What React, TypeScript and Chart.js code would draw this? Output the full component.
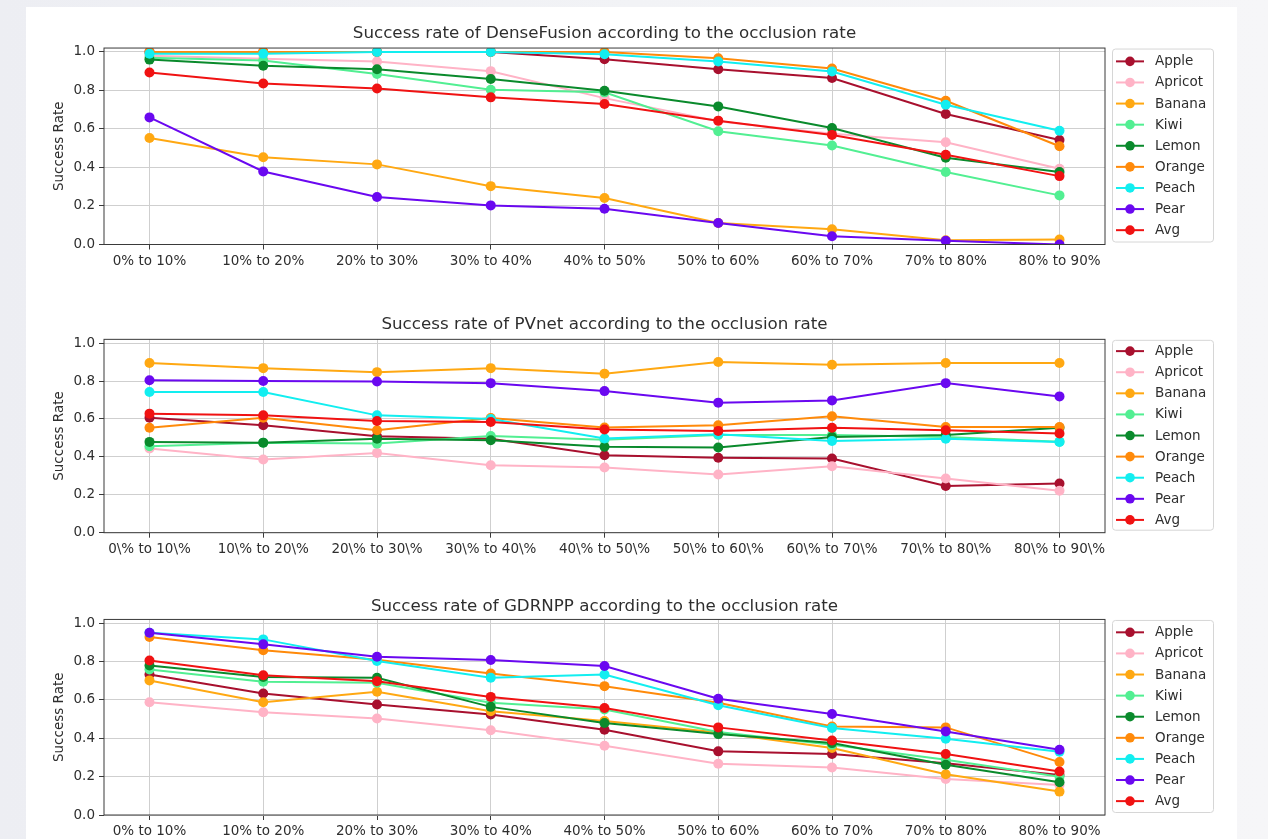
import React, { useEffect, useRef } from 'react';
import { Chart, registerables } from 'chart.js';

Chart.register(...registerables);
Chart.defaults.font.family = '"DejaVu Sans", sans-serif';
Chart.defaults.color = '#333333';

// ---------- data ----------
const SERIES = ['Apple', 'Apricot', 'Banana', 'Kiwi', 'Lemon', 'Orange', 'Peach', 'Pear', 'Avg'];

const LABELS_PLAIN = ['0% to 10%', '10% to 20%', '20% to 30%', '30% to 40%', '40% to 50%', '50% to 60%', '60% to 70%', '70% to 80%', '80% to 90%'];
const LABELS_ESCAPED = ['0\\% to 10\\%', '10\\% to 20\\%', '20\\% to 30\\%', '30\\% to 40\\%', '40\\% to 50\\%', '50\\% to 60\\%', '60\\% to 70\\%', '70\\% to 80\\%', '80\\% to 90\\%'];
const Y_TICKS = [0, 0.2, 0.4, 0.6, 0.8, 1.0];

// DenseFusion
const dfApple = [1.0, 1.0, 1.0, 1.0, 0.962, 0.91, 0.864, 0.678, 0.543];
const dfApricot = [0.98, 0.965, 0.95, 0.9, 0.76, 0.64, 0.575, 0.531, 0.393];
const dfBanana = [0.553, 0.453, 0.416, 0.303, 0.241, 0.112, 0.079, 0.022, 0.026];
const dfKiwi = [0.97, 0.955, 0.885, 0.803, 0.79, 0.588, 0.514, 0.376, 0.255];
const dfLemon = [0.96, 0.928, 0.91, 0.859, 0.798, 0.717, 0.605, 0.45, 0.376];
const dfOrange = [1.0, 1.0, 1.0, 1.0, 1.0, 0.967, 0.914, 0.746, 0.51];
const dfPeach = [0.99, 0.99, 1.0, 1.0, 0.988, 0.95, 0.898, 0.726, 0.591];
const dfPear = [0.66, 0.379, 0.247, 0.203, 0.186, 0.112, 0.043, 0.019, 0.0];
const dfAvg = [0.893, 0.836, 0.81, 0.764, 0.729, 0.643, 0.569, 0.466, 0.355];

// PVnet
const pvApple = [0.607, 0.567, 0.509, 0.496, 0.409, 0.395, 0.391, 0.246, 0.26];
const pvApricot = [0.444, 0.386, 0.421, 0.356, 0.344, 0.307, 0.351, 0.286, 0.221];
const pvBanana = [0.895, 0.868, 0.847, 0.868, 0.839, 0.9, 0.886, 0.895, 0.895];
const pvKiwi = [0.456, 0.475, 0.47, 0.51, 0.49, 0.515, 0.515, 0.505, 0.48];
const pvLemon = [0.479, 0.475, 0.496, 0.488, 0.453, 0.449, 0.505, 0.515, 0.554];
const pvOrange = [0.554, 0.607, 0.54, 0.605, 0.555, 0.567, 0.614, 0.558, 0.558];
const pvPeach = [0.742, 0.742, 0.619, 0.6, 0.497, 0.519, 0.484, 0.496, 0.479];
const pvPear = [0.804, 0.8, 0.798, 0.789, 0.747, 0.686, 0.698, 0.789, 0.719];
const pvAvg = [0.628, 0.619, 0.589, 0.584, 0.544, 0.537, 0.554, 0.54, 0.523];

// GDRNPP
const gdApple = [0.733, 0.634, 0.576, 0.524, 0.445, 0.332, 0.318, 0.27, 0.209];
const gdApricot = [0.588, 0.536, 0.503, 0.442, 0.361, 0.267, 0.248, 0.188, 0.157];
const gdBanana = [0.702, 0.588, 0.643, 0.541, 0.49, 0.43, 0.349, 0.213, 0.122];
const gdKiwi = [0.759, 0.695, 0.69, 0.585, 0.55, 0.433, 0.366, 0.288, 0.2];
const gdLemon = [0.78, 0.72, 0.716, 0.564, 0.48, 0.422, 0.375, 0.262, 0.171];
const gdOrange = [0.928, 0.859, 0.81, 0.738, 0.672, 0.585, 0.462, 0.457, 0.276];
const gdPeach = [0.951, 0.916, 0.803, 0.716, 0.733, 0.572, 0.454, 0.398, 0.33];
const gdPear = [0.951, 0.89, 0.825, 0.808, 0.777, 0.606, 0.527, 0.436, 0.34];
const gdAvg = [0.806, 0.729, 0.698, 0.616, 0.558, 0.457, 0.389, 0.318, 0.227];

// ---------- styles ----------
const COLORS = ['#a8102e', '#ffb3c6', '#ffa812', '#52ef92', '#0a8a2c', '#ff8a0a', '#12eef0', '#6a08f0', '#f01212'];
const TEXT = '#2e2e2e';
const GRID = '#cfcfcf';
const FRAME = '#3a3a3a';
const FONT = '"DejaVu Sans", sans-serif';

// legend drawn in matplotlib style (line + marker), from the chart's own datasets
const legendPlugin = {
  id: 'mplLegend',
  afterDatasetsDraw(chart: any) {
    const { ctx, chartArea: ca } = chart;
    // frame of axes
    ctx.save();
    ctx.strokeStyle = FRAME;
    ctx.lineWidth = 1;
    ctx.strokeRect(ca.left, ca.top, ca.right - ca.left, ca.bottom - ca.top);
    ctx.restore();
  },
  afterDraw(chart: any) {
    const { ctx, chartArea: ca } = chart;
    const datasets = chart.data.datasets;
    const boxX = ca.right + 7.5;
    const boxW = 101;
    ctx.save();
    ctx.strokeStyle = '#d6d6d6';
    ctx.fillStyle = '#ffffff';
    ctx.lineWidth = 1;
    ctx.beginPath();
    ctx.roundRect(boxX, ca.top + 1, boxW, ca.bottom - ca.top - 3.5, 3);
    ctx.fill();
    ctx.stroke();
    const step = 21.1;
    const center = (ca.top + ca.bottom) / 2 - 0.5;
    const first = center - step * (datasets.length - 1) / 2;
    ctx.font = `13.5px ${FONT}`;
    ctx.textBaseline = 'middle';
    ctx.textAlign = 'left';
    datasets.forEach((ds: any, i: number) => {
      const y = first + i * step;
      const lx = boxX + 3.5;
      ctx.strokeStyle = ds.borderColor;
      ctx.lineWidth = 2;
      ctx.beginPath();
      ctx.moveTo(lx, y);
      ctx.lineTo(lx + 28, y);
      ctx.stroke();
      ctx.fillStyle = ds.borderColor;
      ctx.beginPath();
      ctx.arc(lx + 14, y, 4.8, 0, Math.PI * 2);
      ctx.fill();
      ctx.fillStyle = TEXT;
      ctx.fillText(ds.label, boxX + 42.5, y + 0.5);
    });
    ctx.restore();
  },
};

type PanelProps = {
  title: string;
  labels: string[];
  series: number[][];
  top: number;
  height: number;
  titlePadTop: number;
  titlePadBottom: number;
  xAxisHeight: number;
};

function Panel({ title, labels, series, top, height, titlePadTop, titlePadBottom, xAxisHeight }: PanelProps) {
  const ref = useRef<HTMLCanvasElement | null>(null);
  useEffect(() => {
    if (!ref.current) return;
    const chart = new Chart(ref.current, {
      type: 'line',
      data: {
        datasets: SERIES.map((name, i) => ({
          label: name,
          data: series[i].map((v, j) => ({ x: j, y: v })),
          borderColor: COLORS[i],
          backgroundColor: COLORS[i],
          pointBackgroundColor: COLORS[i],
          pointBorderColor: COLORS[i],
          pointBorderWidth: 0,
          pointRadius: 5,
          borderWidth: 2,
          tension: 0,
          clip: 0,
          order: SERIES.length - 1 - i,
        })),
      },
      options: {
        animation: false,
        responsive: false,
        devicePixelRatio: 1,
        events: [],
        layout: { padding: { left: 0, right: 132, top: 0, bottom: 0 } },
        scales: {
          x: {
            type: 'linear',
            min: -0.4,
            max: 8.4,
            afterBuildTicks: (s: any) => {
              s.ticks = labels.map((_, i) => ({ value: i }));
            },
            afterFit: (s: any) => {
              s.height = xAxisHeight;
            },
            ticks: {
              autoSkip: false,
              maxRotation: 0,
              padding: 3.5,
              color: TEXT,
              font: { size: 13.5 },
              callback: (v: any) => labels[v as number],
            },
            grid: { color: GRID, lineWidth: 1, tickLength: 5, tickColor: FRAME, tickWidth: 1 },
            border: { display: false },
          },
          y: {
            type: 'linear',
            min: 0,
            max: 1.02,
            afterBuildTicks: (s: any) => {
              s.ticks = Y_TICKS.map((v) => ({ value: v }));
            },
            afterFit: (s: any) => {
              s.width = 78;
            },
            ticks: {
              padding: 4,
              color: TEXT,
              font: { size: 13.5 },
              callback: (v: any) => Number(v).toFixed(1),
            },
            grid: { color: GRID, lineWidth: 1, tickLength: 5, tickColor: FRAME, tickWidth: 1 },
            border: { display: false },
            title: {
              display: true,
              text: 'Success Rate',
              color: TEXT,
              font: { size: 13.5 },
              padding: { top: 24.9, bottom: 0 },
            },
          },
        },
        plugins: {
          tooltip: { enabled: false },
          legend: { display: false },
          title: {
            display: true,
            text: title,
            fullSize: false,
            color: TEXT,
            font: { size: 16.7, weight: 'normal' },
            padding: { top: titlePadTop, bottom: titlePadBottom },
          },
        },
      } as any,
      plugins: [legendPlugin],
    });
    return () => chart.destroy();
  }, []);
  return (
    <canvas
      ref={ref}
      width={1211}
      height={height}
      style={{ position: 'absolute', left: 26, top, width: 1211, height }}
    />
  );
}

export default function App() {
  return (
    <div
      style={{
        position: 'absolute',
        left: 0,
        top: 0,
        width: 1268,
        height: 839,
        overflow: 'hidden',
        background: 'linear-gradient(90deg, #edeef3 0%, #f2f3f6 50%, #f6f6f8 100%)',
      }}
    >
      <div style={{ position: 'absolute', left: 26, top: 7, width: 1211, height: 832, background: '#ffffff' }} />
      <Panel
        title="Success rate of DenseFusion according to the occlusion rate"
        labels={LABELS_PLAIN}
        series={[dfApple, dfApricot, dfBanana, dfKiwi, dfLemon, dfOrange, dfPeach, dfPear, dfAvg]}
        top={10}
        height={265}
        titlePadTop={14.0}
        titlePadBottom={4.0}
        xAxisHeight={30.5}
      />
      <Panel
        title="Success rate of PVnet according to the occlusion rate"
        labels={LABELS_ESCAPED}
        series={[pvApple, pvApricot, pvBanana, pvKiwi, pvLemon, pvOrange, pvPeach, pvPear, pvAvg]}
        top={300}
        height={263}
        titlePadTop={15.0}
        titlePadBottom={4.3}
        xAxisHeight={30.3}
      />
      <Panel
        title="Success rate of GDRNPP according to the occlusion rate"
        labels={LABELS_PLAIN}
        series={[gdApple, gdApricot, gdBanana, gdKiwi, gdLemon, gdOrange, gdPeach, gdPear, gdAvg]}
        top={580}
        height={259}
        titlePadTop={16.5}
        titlePadBottom={2.9}
        xAxisHeight={24}
      />
    </div>
  );
}
